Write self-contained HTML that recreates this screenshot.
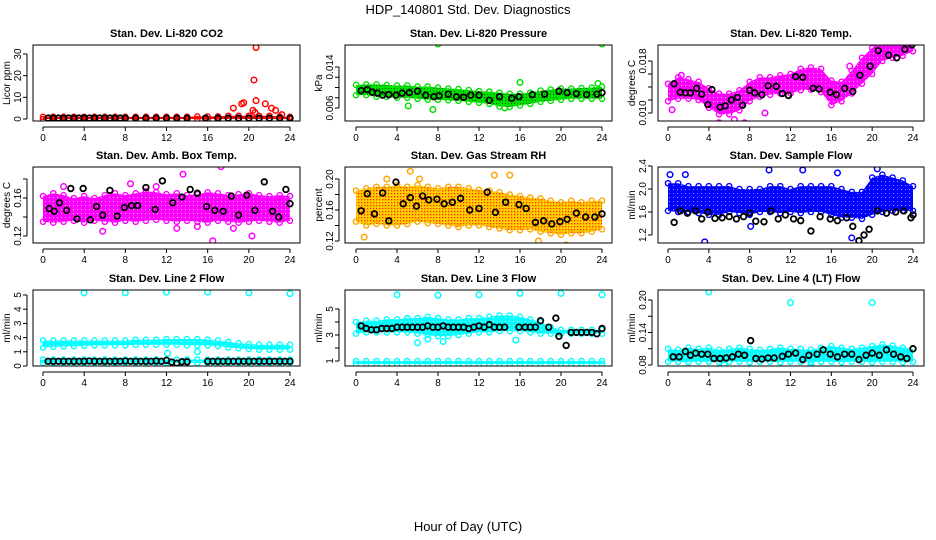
<!DOCTYPE html>
<html><head><meta charset="utf-8"><style>
body{margin:0;background:#fff}
svg{display:block;font-family:"Liberation Sans",sans-serif}
</style></head><body>
<svg id="chart" width="936" height="540" viewBox="0 0 936 540">
<defs>
<pattern id="patGreen" width="3" height="3" patternUnits="userSpaceOnUse"><rect width="3" height="3" fill="#00e000"/><rect x="1" y="1" width="1" height="1" fill="#005000"/></pattern>
<pattern id="patOrange" width="3" height="3" patternUnits="userSpaceOnUse"><rect width="3" height="3" fill="#ffd000"/><rect x="1" y="1" width="1.3" height="1.3" fill="#ff3000"/></pattern>
<pattern id="patMag" width="4" height="4" patternUnits="userSpaceOnUse"><rect width="4" height="4" fill="#ff00ff"/><rect x="1" y="1" width="1" height="1" fill="#ffb0ff"/></pattern>
<pattern id="patBlue" width="4" height="4" patternUnits="userSpaceOnUse"><rect width="4" height="4" fill="#0000ff"/><rect x="1" y="1" width="1" height="1" fill="#9090ff"/></pattern>
<pattern id="patCyan" width="4" height="4" patternUnits="userSpaceOnUse"><rect width="4" height="4" fill="#00ffff"/><rect x="1" y="1" width="1" height="1" fill="#b0ffff"/></pattern>
<pattern id="patRed" width="4" height="4" patternUnits="userSpaceOnUse"><rect width="4" height="4" fill="#ff0000"/></pattern>
</defs>
<text x="468" y="14" text-anchor="middle" font-size="13">HDP_140801  Std. Dev. Diagnostics</text>
<text x="468" y="531" text-anchor="middle" font-size="13">Hour of Day (UTC)</text>
</svg>
<script>
// ---- data ----
const hours = [0,1,2,3,4,5,6,7,8,9,10,11,12,13,14,15,16,17,18,19,20,21,22,23,24];
const xTicks = [0,4,8,12,16,20,24];
const titles = ["Stan. Dev. Li-820 CO2","Stan. Dev. Li-820 Pressure","Stan. Dev. Li-820 Temp.","Stan. Dev. Amb. Box Temp.","Stan. Dev. Gas Stream RH","Stan. Dev. Sample Flow","Stan. Dev. Line 2 Flow","Stan. Dev. Line 3 Flow","Stan. Dev. Line 4 (LT) Flow"];
const yTitles = ["Licor ppm","kPa","degrees C","degrees C","percent","ml/min","ml/min","ml/min","ml/min"];
const colors = ["#ff0000","#00e000","#ff00ff","#ff00ff","#ffa500","#0000ff","#00ffff","#00ffff","#00ffff"];
const fills = ["patRed","patGreen","patMag","patMag","patOrange","patBlue","patCyan","patCyan","patCyan"];
const yTicks = [[0,10,20,30],[0.006,0.008,0.010,0.012,0.014],[0.010,0.012,0.014,0.016,0.018],[0.12,0.14,0.16,0.18],[0.12,0.14,0.16,0.18,0.20],[1.2,1.6,2.0,2.4],[0,1,2,3,4,5],[1,2,3,4,5],[0.08,0.11,0.14,0.17,0.20]];
const yTickLabels = [["0","10","20","30"],["0.006","","","","0.014"],["0.010","","","","0.018"],["0.12","","0.16",""],["0.12","","0.16","","0.20"],["1.2","1.6","2.0","2.4"],["0","1","2","3","4","5"],["1","","3","","5"],["0.08","","0.14","","0.20"]];
const bandLo = [
 [0,0,0,0,0,0,0,0,0,0,0,0,0,0,0,0,0,0,0,0,0,0,0,0,0],
 [0.0085,0.0085,0.0082,0.0082,0.008,0.008,0.0078,0.0076,0.0076,0.0075,0.0074,0.0072,0.007,0.0068,0.0063,0.0062,0.0065,0.0068,0.0072,0.0074,0.0076,0.0078,0.0078,0.0078,0.0078],
 [0.0118,0.0122,0.0122,0.012,0.0108,0.0098,0.0098,0.0104,0.0118,0.0125,0.0128,0.013,0.013,0.0135,0.0136,0.0132,0.0112,0.0118,0.013,0.0145,0.016,0.018,0.0185,0.0188,0.0195],
 [0.135,0.134,0.135,0.136,0.134,0.136,0.135,0.134,0.136,0.135,0.136,0.137,0.136,0.135,0.136,0.135,0.134,0.136,0.135,0.134,0.135,0.136,0.135,0.134,0.136],
 [0.145,0.14,0.142,0.14,0.14,0.142,0.145,0.143,0.142,0.14,0.138,0.14,0.14,0.138,0.136,0.134,0.134,0.135,0.132,0.13,0.128,0.13,0.13,0.132,0.135],
 [1.62,1.6,1.6,1.58,1.55,1.55,1.6,1.58,1.55,1.6,1.6,1.58,1.6,1.58,1.6,1.6,1.55,1.5,1.5,1.48,1.55,1.6,1.62,1.62,1.62],
 [1.3,1.35,1.38,1.4,1.42,1.45,1.45,1.45,1.45,1.5,1.5,1.5,1.5,1.5,1.45,1.45,1.45,1.4,1.3,1.25,1.2,1.15,1.15,1.15,1.15],
 [3.1,3.2,3.2,3.2,3.2,3.2,3.1,3.0,2.9,2.9,3.0,3.1,3.2,3.2,3.3,3.3,3.3,3.2,3.1,3.1,3.1,3.1,3.1,3.1,3.1],
 [0.086,0.086,0.085,0.086,0.086,0.085,0.086,0.086,0.085,0.086,0.086,0.085,0.086,0.086,0.085,0.086,0.086,0.085,0.086,0.086,0.085,0.086,0.086,0.085,0.086]];
const bandHi = [
 [1,1,1,1,1,1,1,1,1,1,1,1,1,1,1,1.2,1.2,1.2,1.5,1.5,1.5,1.5,1.5,1.2,1],
 [0.0105,0.0106,0.0106,0.0105,0.0104,0.0104,0.0102,0.0102,0.01,0.0098,0.0097,0.0095,0.0093,0.0092,0.009,0.0088,0.0088,0.009,0.0094,0.0096,0.0098,0.0098,0.0099,0.01,0.0102],
 [0.0145,0.0155,0.0152,0.0148,0.0138,0.013,0.013,0.0135,0.0148,0.0155,0.0155,0.0158,0.016,0.0168,0.017,0.0168,0.015,0.0148,0.0165,0.0185,0.02,0.0212,0.0215,0.0218,0.022],
 [0.162,0.165,0.163,0.16,0.162,0.16,0.163,0.165,0.163,0.165,0.167,0.166,0.164,0.165,0.163,0.164,0.166,0.165,0.163,0.164,0.165,0.163,0.162,0.163,0.162],
 [0.185,0.188,0.19,0.19,0.192,0.19,0.192,0.19,0.188,0.19,0.19,0.188,0.186,0.185,0.183,0.18,0.178,0.176,0.175,0.172,0.17,0.172,0.17,0.172,0.172],
 [2.1,2.1,2.05,2.05,2.05,2.05,2.05,2.0,2.0,2.0,2.05,2.05,2.0,2.05,2.05,2.05,2.05,2.0,1.95,1.95,2.2,2.25,2.2,2.15,2.05],
 [1.8,1.8,1.8,1.8,1.8,1.8,1.8,1.8,1.8,1.85,1.85,1.85,1.9,1.9,1.9,1.9,1.85,1.8,1.7,1.6,1.55,1.5,1.5,1.5,1.5],
 [4.0,4.1,4.1,4.2,4.2,4.3,4.3,4.4,4.3,4.2,4.2,4.3,4.3,4.4,4.5,4.5,4.4,4.2,4.0,3.6,3.4,3.4,3.4,3.4,3.4],
 [0.11,0.108,0.112,0.11,0.112,0.108,0.11,0.112,0.11,0.108,0.11,0.112,0.11,0.11,0.108,0.112,0.115,0.112,0.11,0.112,0.115,0.118,0.116,0.112,0.11]];
const band2Lo = [null,null,null,null,null,null,0.22,0.78,null];
const band2Hi = [null,null,null,null,null,null,0.45,1.0,null];
const outX = [[18.5,19.3,19.5,20.4,20.5,20.7,20.7,20.6,21.6,22.2,22.6,23.2],[8,16,24,5.1,7.5,23.6,14.5],[0.4,1.3,5,6.5,7.5,9.5,17.8],[2,5.8,8.5,11,13,13.6,15,16.5,17.3,18.5,20.3],[0.8,3,5.3,6.2,13.5,15,17.8,20.5],[0.2,1.7,3.6,8.1,9.9,13.2,18,20.5,16.6],[4,8,12,16,20,24,12.1,15],[4,8,12,16,20,24,6,7,8.5,15.6],[4,12,20,5.5,14]];
const outY = [[5,7,7.5,4,18,33,8.5,3,7,5,4,2],[0.0185,0.011,0.0185,0.0064,0.0057,0.0108,0.006],[0.0105,0.0158,0.0085,0.009,0.0085,0.01,0.0172],[0.172,0.125,0.175,0.172,0.128,0.185,0.13,0.115,0.193,0.128,0.12],[0.125,0.2,0.21,0.2,0.205,0.205,0.12,0.115],[2.25,2.25,1.08,1.35,2.33,2.33,1.15,2.35,2.28],[5.15,5.15,5.2,5.2,5.15,5.1,0.9,1.0],[6.1,6.05,6.1,6.2,6.2,6.1,2.4,2.7,2.5,2.6],[0.215,0.195,0.195,0.08,0.08]];
const blkX = [[0.5,1,1.5,2,2.5,3,3.5,4,4.5,5,5.5,6,6.5,7,7.5,8,9,10,11,12,13,14,15.8,17,18,19,20,21,22,23,24],
 [0.5,1.1,1.6,2.1,2.6,3.2,3.9,4.5,5.2,6,6.8,7.6,8.1,9,9.8,10.5,11.2,12,13,14,15.2,15.9,17.2,18.4,19.8,20.6,21.5,22.5,23.5,24],
 [0.6,1.2,1.7,2.2,2.8,3.3,3.9,4.3,5.1,5.6,6.2,6.8,7.3,8,8.5,9.2,9.8,10.6,11.2,11.8,12.5,13.2,14.2,14.8,15.9,16.5,17.3,18.1,18.8,19.8,20.6,21.6,22.4,23.2,23.9],
 [0.6,1.1,1.6,2.3,2.7,3.3,3.9,4.6,5.2,5.8,6.5,7.2,7.9,8.6,9.2,10,10.9,11.6,12.6,13.5,14.3,15,15.9,16.7,17.5,18.3,19,19.8,20.6,21.5,22.3,22.9,23.6,24],
 [0.5,1.1,1.8,2.6,3.2,3.9,4.6,5.3,5.9,6.5,7.1,7.9,8.6,9.4,10.2,11.1,12,12.8,13.6,14.6,15.9,16.6,17.5,18.3,19.1,19.9,20.6,21.5,22.4,23.3,24],
 [0.6,1.2,1.9,2.7,3.3,3.9,4.6,5.3,6,6.7,7.4,8,8.6,9.4,10.1,10.8,11.5,12.3,13,14,14.9,15.9,16.6,17.5,18.1,18.7,19.2,19.7,20.5,21.4,22.3,23.1,23.8,24],
 [0.5,1,1.5,2,2.5,3,3.5,4,4.5,5,5.5,6,6.5,7,7.5,8,8.5,9,9.5,10,10.5,11,11.5,12,12.5,13,13.5,14,16,16.5,17,17.5,18,18.5,19,19.5,20,20.5,21,21.5,22,22.5,23,23.5,24],
 [0.5,1,1.5,2,2.5,3,3.5,4,4.5,5,5.5,6,6.5,7,7.5,8,8.5,9,9.5,10,10.5,11,11.5,12,12.5,13,13.5,14,14.5,15.9,16.5,17,17.5,18,18.8,19.5,19.8,20.5,21,21.5,22,22.5,23,23.5,24],
 [0.5,1.1,1.7,2.2,2.7,3.3,3.9,4.5,5.1,5.7,6.3,6.9,7.5,8.1,8.6,9.2,9.8,10.4,11.2,11.8,12.5,13.2,13.8,14.6,15.2,15.9,16.6,17.3,18,18.7,19.4,20,20.7,21.4,22.1,22.8,23.4,24]];
const blkY = [[0.4,0.4,0.4,0.4,0.4,0.4,0.4,0.4,0.4,0.4,0.4,0.4,0.4,0.4,0.4,0.4,0.4,0.4,0.4,0.4,0.4,0.4,0.4,0.4,0.4,0.4,0.4,0.4,0.4,0.4,0.4],
 [0.0094,0.0096,0.0091,0.0089,0.0085,0.0086,0.0085,0.0089,0.009,0.0093,0.0085,0.0082,0.0084,0.0087,0.0082,0.0081,0.0085,0.0085,0.0075,0.0082,0.0079,0.0082,0.0086,0.0087,0.0093,0.009,0.0088,0.0086,0.0087,0.009],
 [0.0145,0.0132,0.0131,0.0131,0.0138,0.0129,0.0113,0.0136,0.0109,0.0111,0.012,0.0124,0.0112,0.0135,0.0131,0.0128,0.0142,0.0141,0.013,0.0127,0.0156,0.0155,0.0138,0.0137,0.0132,0.0128,0.0138,0.0133,0.0158,0.0172,0.0196,0.0189,0.0185,0.0198,0.0205],
 [0.149,0.146,0.155,0.147,0.17,0.138,0.17,0.137,0.151,0.142,0.168,0.141,0.15,0.152,0.152,0.171,0.148,0.178,0.155,0.161,0.169,0.165,0.151,0.147,0.146,0.162,0.142,0.163,0.147,0.177,0.146,0.14,0.169,0.154],
 [0.159,0.181,0.155,0.182,0.146,0.196,0.168,0.176,0.165,0.178,0.173,0.174,0.168,0.17,0.175,0.16,0.162,0.183,0.157,0.17,0.167,0.162,0.144,0.146,0.142,0.145,0.148,0.156,0.151,0.151,0.155],
 [1.42,1.62,1.58,1.62,1.48,1.6,1.49,1.5,1.52,1.48,1.52,1.58,1.44,1.43,1.62,1.48,1.55,1.48,1.45,1.27,1.52,1.48,1.45,1.5,1.35,1.1,1.2,1.3,1.62,1.58,1.6,1.62,1.5,1.55],
 [0.33,0.33,0.33,0.33,0.33,0.33,0.33,0.33,0.35,0.33,0.33,0.33,0.33,0.33,0.33,0.35,0.33,0.33,0.33,0.33,0.33,0.35,0.33,0.4,0.28,0.2,0.3,0.3,0.33,0.33,0.33,0.33,0.33,0.33,0.33,0.33,0.33,0.33,0.33,0.33,0.33,0.33,0.33,0.33,0.33],
 [3.7,3.5,3.4,3.4,3.5,3.5,3.5,3.6,3.6,3.6,3.6,3.6,3.6,3.7,3.6,3.6,3.7,3.6,3.6,3.6,3.6,3.5,3.6,3.7,3.6,3.8,3.6,3.6,3.6,3.6,3.6,3.6,3.6,4.1,3.6,4.3,2.9,2.2,3.2,3.2,3.2,3.2,3.2,3.1,3.5],
 [0.095,0.095,0.105,0.098,0.102,0.1,0.1,0.092,0.092,0.093,0.095,0.1,0.098,0.125,0.092,0.091,0.093,0.093,0.096,0.1,0.102,0.09,0.098,0.1,0.108,0.1,0.095,0.1,0.1,0.09,0.098,0.102,0.098,0.108,0.1,0.095,0.092,0.11]];
// ---- layout ----
const colL=[33,345,658], colR=[300,612,924], x0s=[43,356,668], x24s=[290,602,913];
const rowT=[45,167,290], rowB=[121,243,366];
const yCal=[[0,119,30,54],[0.006,108,0.014,67],[0.010,113,0.018,61],[0.12,236,0.16,198],[0.12,241,0.20,179],[1.2,235,2.4,166],[0,366,5,295],[1,361,5,309],[0.08,365,0.20,300]];
const NS="http://www.w3.org/2000/svg";
const svg=document.getElementById('chart');
function mk(tag,attrs,parent){const e=document.createElementNS(NS,tag);for(const k in attrs)e.setAttribute(k,attrs[k]);(parent||svg).appendChild(e);return e;}
for(let p=0;p<9;p++){
  const c=p%3,r=Math.floor(p/3);
  const L=colL[c],R=colR[c],T=rowT[r],B=rowB[r];
  const xs=h=>x0s[c]+(x24s[c]-x0s[c])*h/24;
  const k=yCal[p];
  const ys=v=>k[1]+(v-k[0])*(k[3]-k[1])/(k[2]-k[0]);
  const g=mk('g',{});
  
  
  const clipId='clip'+p;
  const cp=mk('clipPath',{id:clipId},g);mk('rect',{x:L,y:T,width:R-L,height:B-T},cp);
  const plot=mk('g',{'clip-path':'url(#'+clipId+')'},g);
  const col=colors[p];
  function band(lo,hi,name){
    let pts=hours.map((h,i)=>xs(h)+','+ys(hi[i]));
    pts=pts.concat(hours.slice().reverse().map((h,j)=>{const i=hours.length-1-j;return xs(h)+','+ys(lo[i]);}));
    const poly=mk('polygon',{points:pts.join(' '),fill:'url(#'+fills[p]+')',stroke:'none'},plot);
    
    
    hours.forEach((h,i)=>{[lo[i],hi[i]].forEach(v=>{
      const ci=mk('circle',{cx:xs(h),cy:ys(v),r:2.6,fill:'none',stroke:col,'stroke-width':1.4},plot);
      
      
    });});
  }
  band(bandLo[p],bandHi[p],'series-band');
  if(band2Lo[p]!==null){
    const lo=hours.map(()=>band2Lo[p]),hi=hours.map(()=>band2Hi[p]);
    band(lo,hi,'series-band-low');
  }
  outX[p].forEach((h,i)=>{
    const ci=mk('circle',{cx:xs(h),cy:ys(outY[p][i]),r:2.8,fill:'none',stroke:col,'stroke-width':1.5},plot);
    
    
  });
  blkX[p].forEach((h,i)=>{
    const ci=mk('circle',{cx:xs(h),cy:ys(blkY[p][i]),r:2.8,fill:'none',stroke:'#000','stroke-width':1.8},plot);
    
    
  });
  const box=mk('rect',{x:L,y:T,width:R-L,height:B-T,fill:'none',stroke:'#000','stroke-width':1},g);
  
  
  const t=mk('text',{x:(L+R)/2,y:T-8,'text-anchor':'middle','font-size':11,'font-weight':'bold'},g);
  t.textContent=titles[p];
  
  
  const yt=mk('text',{x:0,y:0,'text-anchor':'middle','font-size':10,transform:`translate(${L-23},${(T+B)/2}) rotate(-90)`},g);
  yt.textContent=yTitles[p];
  
  
  mk('line',{x1:xs(0),x2:xs(24),y1:B+6,y2:B+6,stroke:'#000'},g);
  xTicks.forEach(h=>{
    mk('line',{x1:xs(h),x2:xs(h),y1:B+6,y2:B+10,stroke:'#000'},g);
    const tl=mk('text',{x:xs(h),y:B+20,'text-anchor':'middle','font-size':10},g);
    tl.textContent=h;
    
    
  });
  const yt0=yTicks[p];
  mk('line',{x1:L-6,x2:L-6,y1:ys(yt0[0]),y2:ys(yt0[yt0.length-1]),stroke:'#000'},g);
  yt0.forEach((v,i)=>{
    mk('line',{x1:L-10,x2:L-6,y1:ys(v),y2:ys(v),stroke:'#000'},g);
    if(yTickLabels[p][i]){
      const tl=mk('text',{x:0,y:0,'text-anchor':'middle','font-size':10,transform:`translate(${L-12},${ys(v)}) rotate(-90)`},g);
      tl.textContent=yTickLabels[p][i];
      
      
    }
  });
}
</script>
</body></html>
